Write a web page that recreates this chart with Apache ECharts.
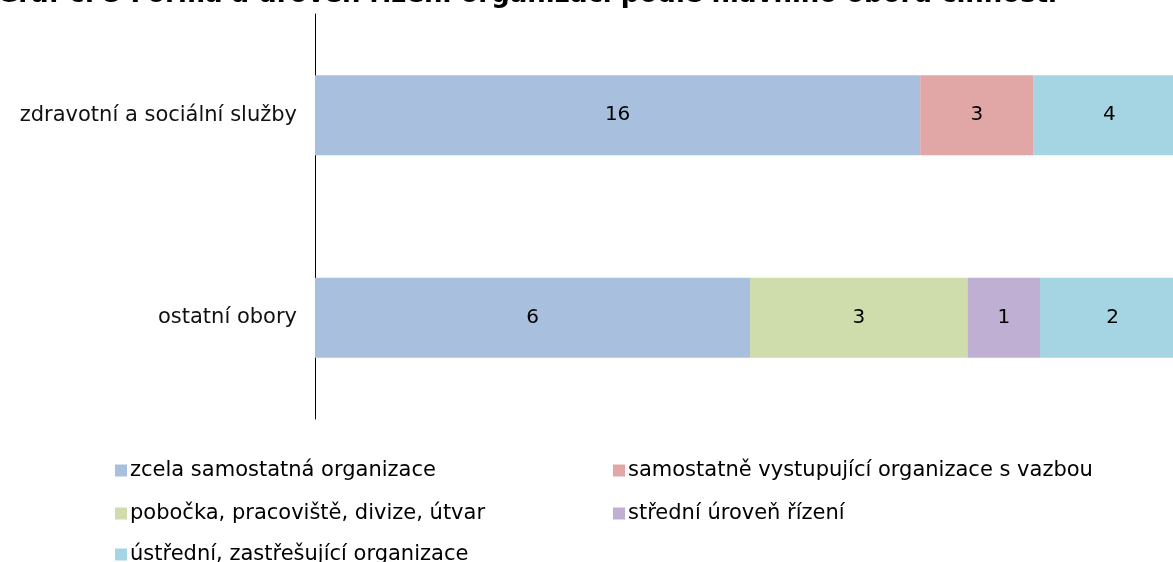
<!DOCTYPE html>
<html>
<head>
<meta charset="utf-8">
<script src="https://cdn.jsdelivr.net/npm/echarts@6/dist/echarts.min.js"></script>
<style>
  html, body { margin: 0; padding: 0; background: #fff; }
  #chart { width: 1173px; height: 562px; }
</style>
</head>
<body>
<div id="chart"></div>
<script>
// obory (top to bottom)
const categories = ['zdravotní a sociální služby', 'ostatní obory'];

const seriesNames = [
  'zcela samostatná organizace',
  'samostatně vystupující organizace s vazbou',
  'pobočka, pracoviště, divize, útvar',
  'střední úroveň řízení',
  'ústřední, zastřešující organizace'
];
// counts per obor, null = none
const zcelaSamostatna = [16, 6];
const samostatneSVazbou = [3, null];
const pobocka = [null, 3];
const stredniUroven = [null, 1];
const ustredni = [4, 2];

const colors = ['#A8C0DE', '#E0A7A6', '#CFDDAD', '#BFB0D3', '#A5D5E2'];

const seriesValues = [zcelaSamostatna, samostatneSVazbou, pobocka, stredniUroven, ustredni];

// totals per category for 100 % stacking
const totals = categories.map((c, i) =>
  seriesValues.reduce((s, arr) => s + (arr[i] || 0), 0));

const font = 'DejaVu Sans';

const series = seriesNames.map((name, k) => ({
  name: name,
  type: 'bar',
  stack: 'all',
  barWidth: 80,
  itemStyle: { color: colors[k] },
  label: {
    show: true,
    position: 'inside',
    color: '#000',
    fontFamily: font,
    fontSize: 20,
    formatter: p => seriesValues[k][p.dataIndex]
  },
  data: seriesValues[k].map((v, i) => v == null ? '-' : v / totals[i])
}));

// legend slots: column x, row y
const legendPos = [[110, 455], [608, 455], [110, 498], [608, 498], [110, 539]];
const legends = seriesNames.map((name, k) => ({
  left: legendPos[k][0],
  top: legendPos[k][1],
  itemWidth: 12,
  itemHeight: 12,
  icon: 'rect',
  data: [name],
  textStyle: { fontFamily: font, fontSize: 21, color: '#000', padding: [0, 0, 0, -2] }
}));

const chart = echarts.init(document.getElementById('chart'));
chart.setOption({
  animation: false,
  title: {
    text: 'Graf č. 5 Forma a úroveň řízení organizací podle hlavního oboru činnosti',
    right: 111,
    top: -23,
    textStyle: { fontFamily: font, fontSize: 26, fontWeight: 'bold', color: '#000' }
  },
  // plot runs past the right edge of the picture
  grid: { left: 315, width: 870, top: 14, bottom: 143, outerBoundsMode: 'none' },
  xAxis: {
    type: 'value',
    min: 0,
    max: 1,
    show: false
  },
  yAxis: {
    type: 'category',
    inverse: true,
    data: categories,
    axisLine: { show: true, lineStyle: { color: '#000', width: 1 } },
    axisTick: { show: false },
    axisLabel: { color: '#111', fontFamily: font, fontSize: 21, margin: 18 }
  },
  legend: legends,
  series: series
});
</script>
</body>
</html>
